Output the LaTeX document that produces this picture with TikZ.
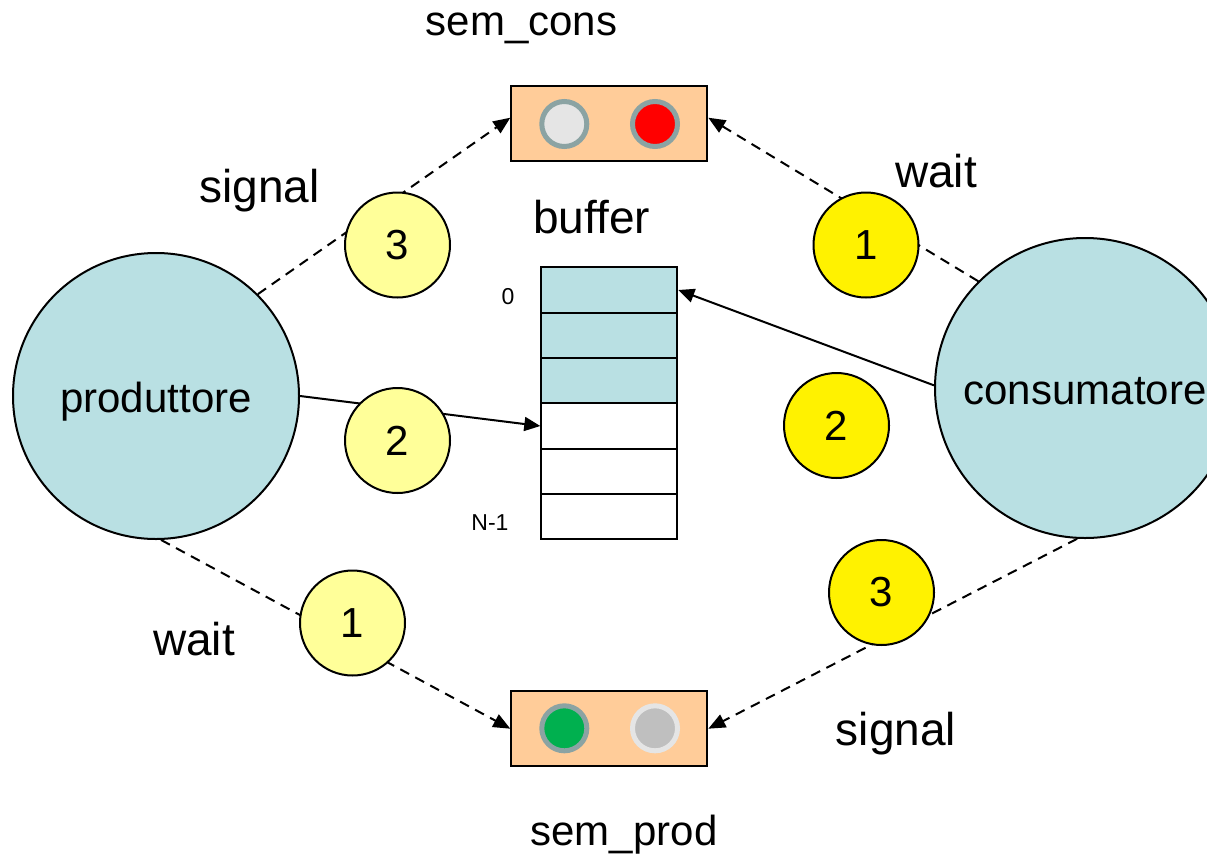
\documentclass[tikz,border=0pt]{standalone}
\usepackage{fontspec}
\setmainfont{Liberation Sans}
\usetikzlibrary{arrows.meta}
\definecolor{procblue}{HTML}{B9E0E3}
\definecolor{semorange}{HTML}{FFCC99}
\definecolor{paleyellow}{HTML}{FFFF99}
\definecolor{ringgrey}{HTML}{8BA3A3}
\definecolor{lampgreen}{HTML}{00B04F}
\begin{document}
\begin{tikzpicture}[x=1pt,y=-1pt,
	proc/.style={circle,draw=black,line width=2pt,fill=procblue,inner sep=0pt,
		text height=32pt,text depth=0pt,font=\fontsize{42}{48}\selectfont},
	sembox/.style={draw=black,line width=2pt,fill=semorange,inner sep=0pt,
		minimum width=196pt,minimum height=75pt},
	lamp/.style={circle,line width=5pt,inner sep=0pt,minimum size=45pt},
	cell/.style={draw=black,line width=2pt,inner sep=0pt,
		minimum width=136pt,minimum height=45.33pt},
	num/.style={circle,draw=black,line width=2pt,inner sep=0pt,minimum size=105pt,
		font=\fontsize{42}{48}\selectfont},
	lbl/.style={anchor=base,inner sep=0pt,font=\fontsize{46}{52}\selectfont},
	semlbl/.style={anchor=base,inner sep=0pt,font=\fontsize{42}{48}\selectfont},
	idx/.style={anchor=base,inner sep=0pt,font=\fontsize{23}{26}\selectfont},
	sig/.style={draw=black,line width=2pt,dash pattern=on 10pt off 7pt,
		-{Triangle[length=17pt,width=14pt]}},
	put/.style={draw=black,line width=2pt,-{Triangle[length=16pt,width=14pt]}}]
	\useasboundingbox (0,0) rectangle (1207,857);
	\clip (0,0) rectangle (1207,857);

	% processes
	\node[proc,minimum size=286pt] (prod) at (156,396) {produttore};
	\node[proc,minimum size=300pt] (cons) at (1085,388) {consumatore};

	% semaphores
	\node[sembox] (semcons) at (609.3,123.7) {};
	\node[lamp,draw=ringgrey,fill=black!10] (l0) at (564.3,124) {};
	\node[lamp,draw=ringgrey,fill=red] (l1) at (655,124) {};
	\node[semlbl] (tcons) at (521.5,35) {sem\_cons};

	\node[sembox] (semprod) at (609.3,728.7) {};
	\node[lamp,draw=ringgrey,fill=lampgreen] (l2) at (564.3,728.3) {};
	\node[lamp,draw=black!10,fill=black!25] (l3) at (655,728.3) {};
	\node[semlbl] (tprod) at (624,845) {sem\_prod};

	% buffer
	\node[cell,fill=procblue] (b0) at (609.3,290) {};
	\node[cell,fill=procblue] (b1) at (609.3,335.3) {};
	\node[cell,fill=procblue] (b2) at (609.3,380.7) {};
	\node[cell] (b3) at (609.3,426) {};
	\node[cell] (b4) at (609.3,471.3) {};
	\node[cell] (b5) at (609.3,516.7) {};
	\node[lbl] (tbuf) at (591.5,233) {buffer};
	\node[idx] (i0) at (508,304) {0};
	\node[idx] (i5) at (490,530) {N-1};

	% connectors
	\draw[sig] (prod.45) -- ([yshift=6pt]semcons.west);
	\draw[sig] (cons.135) -- ([yshift=6pt]semcons.east);
	\draw[sig] (prod.-88) -- (semprod.west);
	\draw[sig] (cons.-93) -- (semprod.east);
	\draw[put] (prod.0) -- (b3.west);
	\draw[put] (cons.179) -- (b0.east);

	% steps
	\node[num,fill=paleyellow] (p3) at (397.5,245) {3};
	\node[num,fill=paleyellow] (p2) at (397.5,440.5) {2};
	\node[num,fill=paleyellow] (p1) at (352.5,623) {1};
	\node[num,fill=yellow] (c1) at (866,245) {1};
	\node[num,fill=yellow] (c2) at (836.5,425.5) {2};
	\node[num,fill=yellow] (c3) at (881.5,592.5) {3};

	\node[lbl] (ts1) at (259.5,202) {signal};
	\node[lbl] (tw1) at (936,187) {wait};
	\node[lbl] (tw2) at (194,655) {wait};
	\node[lbl] (ts2) at (896,745) {signal};
\end{tikzpicture}
\end{document}
